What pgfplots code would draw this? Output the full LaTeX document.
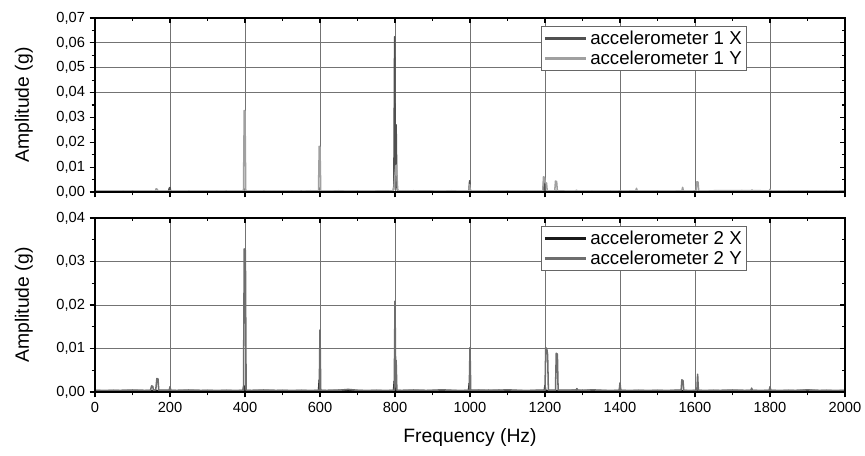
\documentclass[border=0pt]{standalone}
\usepackage{fontspec}
\setmainfont{Liberation Sans}
\usepackage{pgfplots}
\pgfplotsset{compat=1.18}

\definecolor{accOneX}{RGB}{80,80,80}
\definecolor{accOneY}{RGB}{160,160,160}
\definecolor{accTwoX}{RGB}{25,25,25}
\definecolor{accTwoY}{RGB}{110,110,110}
\definecolor{gridGray}{RGB}{115,115,115}

\pgfplotsset{
  panel/.style={
    scale only axis, width=562.5pt, height=130.5pt,
    xmin=0, xmax=2000,
    xtick={0,200,...,2000}, minor x tick num=1, minor y tick num=1,
    axis line style={line width=0.9pt},
    tick style={black, line width=0.8pt},
    major tick length=4pt, minor tick length=2.5pt,
    scaled y ticks=false,
    tick label style={font=\fontsize{11}{13}\selectfont},
    /pgf/number format/assume math mode=true,
    yticklabel style={/pgf/number format/.cd, use comma, fixed, fixed zerofill, precision=2},
    xticklabel style={/pgf/number format/1000 sep={}},
  },
  spectrum/.style={
    panel,
    xmajorgrids, grid style={gridGray, line width=0.6pt},
    tick align=outside, xtick pos=lower, ytick pos=left,
    every axis y label/.style={at={(axis description cs:-0.0947,0.5)}, rotate=90, anchor=center, font=\fontsize{14.5}{16}\selectfont},
    every axis x label/.style={at={(axis description cs:0.5,-0.264)}, anchor=center, font=\fontsize{14.5}{16}\selectfont},
    legend style={at={(axis description cs:0.869,0.954)}, anchor=north east,
      font=\fontsize{14}{16}\selectfont, draw=black!60, line width=0.5pt,
      inner sep=1.5pt, row sep=-1pt, cells={anchor=west}},
    legend image code/.code={\draw[#1, line width=2pt] (0pt,0pt) -- (31pt,0pt);},
  },
  mirror/.style={
    panel, tick align=inside, xtick pos=upper, ytick pos=right,
    xticklabels={}, yticklabels={},
  },
  trace/.style={line width=1.15pt, line join=round},
}

\begin{document}
\begin{tikzpicture}
\useasboundingbox (-71.25pt,-47.25pt) rectangle (577.5pt,294pt);

% ---------- upper panel: accelerometer 1 ----------
\begin{axis}[spectrum, at={(0,150pt)},
  ymin=0, ymax=0.07, ytick={0,0.01,...,0.07},
  xticklabels={},
  extra y ticks={0.04,0.05,0.06}, extra y tick labels={},
  extra y tick style={ymajorgrids=true},
  ylabel={Amplitude (g)}]
\addplot[trace, accOneX] coordinates {
  (0,0.0003)(50,0.0002)(100,0.0003)(150,0.0002)(196,0.0002)(198,0.0015)(200,0.0018)(202,0.0002)
  (250,0.0003)(300,0.0002)(350,0.0003)(397,0.0002)(399,0.0012)(401,0.0002)(450,0.0003)
  (500,0.0002)(550,0.0003)(597,0.0002)(599,0.0016)(601,0.0002)(650,0.0003)(700,0.0002)
  (750,0.0003)(795,0.0003)(797,0.0025)(799,0.0625)(801,0.0062)(803,0.027)(805,0.002)(807,0.0003)
  (850,0.0004)(900,0.0003)(950,0.0002)(997,0.0003)(999,0.0045)(1001,0.0003)(1050,0.0002)
  (1100,0.0003)(1150,0.0002)(1195,0.0003)(1197,0.004)(1199,0.0003)(1250,0.0003)(1300,0.0002)
  (1400,0.0003)(1500,0.0002)(1600,0.0003)(1700,0.0002)(1800,0.0003)(1900,0.0002)(2000,0.0003)};
\addplot[trace, accOneY] coordinates {
  (0,0.0004)(25,0.0003)(50,0.0003)(75,0.0004)(100,0.0003)(125,0.0003)(150,0.0004)
  (161,0.0003)(163,0.0013)(166,0.0011)(168,0.0003)(190,0.0003)(200,0.0004)(225,0.0003)
  (250,0.0004)(275,0.0003)(300,0.0003)(325,0.0004)(350,0.0003)(375,0.0003)
  (396,0.0004)(398,0.0328)(400,0.0325)(402,0.0004)(425,0.0003)(450,0.0004)(475,0.0003)
  (500,0.0003)(525,0.0004)(550,0.0003)(575,0.0005)
  (596,0.0004)(598,0.0184)(600,0.018)(602,0.0004)(625,0.0003)(650,0.0005)(675,0.0003)
  (700,0.0004)(725,0.0003)(750,0.0004)(775,0.0003)
  (795,0.0005)(797,0.0012)(802,0.0105)(804,0.0108)(807,0.0012)(809,0.0004)
  (825,0.0004)(850,0.0005)(875,0.0003)(900,0.0004)(925,0.0003)(950,0.0005)(975,0.0003)
  (997,0.0004)(999,0.003)(1001,0.0004)(1025,0.0003)(1050,0.0004)(1075,0.0003)
  (1100,0.0004)(1125,0.0003)(1150,0.0004)(1175,0.0003)
  (1194,0.0004)(1196,0.0061)(1199,0.0058)(1201,0.0037)(1204,0.0036)(1206,0.0004)
  (1226,0.0004)(1228,0.0044)(1231,0.0042)(1233,0.0004)(1260,0.0003)
  (1282,0.0004)(1284,0.0007)(1286,0.0003)(1300,0.0003)(1325,0.0004)(1350,0.0003)
  (1375,0.0004)(1400,0.0003)(1425,0.0004)(1442,0.0004)(1444,0.0015)(1446,0.0004)
  (1475,0.0003)(1500,0.0004)(1525,0.0003)(1550,0.0004)
  (1565,0.0004)(1567,0.0019)(1569,0.0004)(1585,0.0003)
  (1603,0.0004)(1605,0.0041)(1608,0.004)(1610,0.0004)(1625,0.0003)(1650,0.0005)
  (1675,0.0005)(1700,0.0005)(1725,0.0006)(1750,0.0005)(1752,0.0008)(1754,0.0005)(1775,0.0005)
  (1798,0.0004)(1800,0.0011)(1802,0.0004)(1825,0.0003)(1850,0.0004)(1875,0.0003)
  (1900,0.0004)(1925,0.0003)(1950,0.0004)(1975,0.0003)(1995,0.0005)(2000,0.0003)};
\legend{accelerometer 1 X, accelerometer 1 Y}
\end{axis}
\begin{axis}[mirror, at={(0,150pt)}, ymin=0, ymax=0.07, ytick={0,0.01,...,0.07}]
\end{axis}

% ---------- lower panel: accelerometer 2 ----------
\begin{axis}[spectrum, at={(0,0)},
  ymin=0, ymax=0.04, ytick={0,0.01,...,0.04},
  ymajorgrids,
  xlabel={Frequency (Hz)}, ylabel={Amplitude (g)}]
\addplot[trace, accTwoX] coordinates {
  (0,0.0003)(50,0.0003)(100,0.0004)(150,0.0003)(200,0.0003)(250,0.0004)(300,0.0003)
  (350,0.0003)(395,0.0003)(397,0.0015)(399,0.0003)(450,0.0004)(500,0.0003)(550,0.0003)
  (596,0.0003)(598,0.0028)(600,0.0003)(650,0.0004)(700,0.0003)(750,0.0003)
  (796,0.0003)(798,0.0025)(800,0.0003)(850,0.0004)(900,0.0003)(950,0.0003)
  (996,0.0003)(998,0.002)(1000,0.0003)(1050,0.0004)(1100,0.0003)(1150,0.0003)
  (1198,0.0003)(1200,0.0015)(1202,0.0003)(1250,0.0003)(1300,0.0004)(1350,0.0003)
  (1398,0.0003)(1400,0.001)(1402,0.0003)(1450,0.0003)(1500,0.0003)(1550,0.0003)
  (1600,0.0003)(1650,0.0003)(1700,0.0004)(1750,0.0003)(1800,0.0003)(1850,0.0003)
  (1900,0.0004)(1950,0.0003)(2000,0.0003)};
\addplot[trace, accTwoY] coordinates {
  (0,0.0004)(25,0.0003)(50,0.0004)(75,0.0003)(100,0.0004)(125,0.0003)
  (148,0.0004)(151,0.0014)(154,0.0013)(156,0.0004)(162,0.0005)(165,0.0031)(168,0.003)(170,0.0004)
  (185,0.0004)(198,0.0004)(200,0.0012)(202,0.0004)(225,0.0003)(250,0.0004)(275,0.0003)
  (300,0.0004)(325,0.0003)(350,0.0004)(375,0.0003)
  (396,0.0004)(398,0.0329)(401,0.0325)(403,0.0004)(425,0.0003)(450,0.0004)(475,0.0003)
  (500,0.0004)(525,0.0003)(550,0.0004)(575,0.0003)
  (598,0.0004)(600,0.01425)(602,0.0004)(625,0.0003)(650,0.0004)(675,0.0006)(700,0.0004)
  (725,0.0003)(750,0.0004)(775,0.0003)
  (798,0.0004)(800,0.0209)(802,0.0012)(803,0.0073)(805,0.0004)(825,0.0003)(850,0.0004)
  (875,0.0003)(900,0.0004)(925,0.0005)(950,0.0004)(975,0.0003)
  (998,0.0004)(1000,0.0102)(1002,0.0004)(1025,0.0004)(1050,0.0003)(1075,0.0004)
  (1100,0.0005)(1125,0.0004)(1150,0.0003)(1175,0.0004)
  (1200,0.0004)(1202,0.0102)(1205,0.0098)(1207,0.0085)(1209,0.0004)
  (1228,0.0004)(1230,0.0089)(1233,0.0087)(1235,0.0004)(1260,0.0004)
  (1283,0.0004)(1285,0.0008)(1287,0.0004)(1300,0.0003)(1325,0.0005)(1350,0.0004)
  (1375,0.0003)(1398,0.0004)(1400,0.0021)(1402,0.0004)(1425,0.0003)(1450,0.0004)
  (1475,0.0003)(1500,0.0004)(1525,0.0003)(1545,0.0004)
  (1563,0.0004)(1565,0.0028)(1568,0.0026)(1570,0.0004)(1585,0.0003)
  (1605,0.0004)(1607,0.0041)(1609,0.0004)(1625,0.0003)(1650,0.0004)(1675,0.0003)
  (1700,0.0004)(1725,0.0003)(1749,0.0004)(1751,0.0009)(1753,0.0004)(1775,0.0003)
  (1798,0.0004)(1800,0.0012)(1802,0.0004)(1825,0.0003)(1850,0.0004)(1875,0.0003)
  (1900,0.0005)(1925,0.0003)(1950,0.0004)(1975,0.0003)(2000,0.0004)};
\legend{accelerometer 2 X, accelerometer 2 Y}
\end{axis}
\begin{axis}[mirror, at={(0,0)}, ymin=0, ymax=0.04, ytick={0,0.01,...,0.04}]
\end{axis}
\end{tikzpicture}
\end{document}
